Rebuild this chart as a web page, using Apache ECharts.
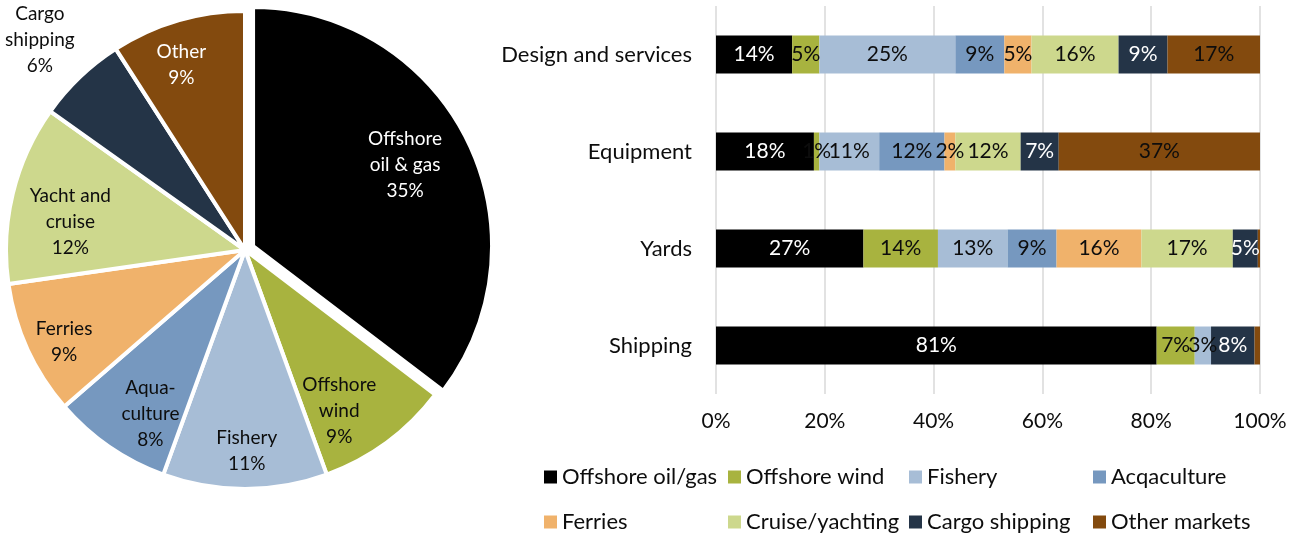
<!DOCTYPE html>
<html>
<head>
<meta charset="utf-8">
<script src="https://cdn.jsdelivr.net/npm/echarts@6/dist/echarts.min.js"></script>
<style>
  html, body { margin: 0; padding: 0; background: #fff; }
  #chart { width: 1290px; height: 536px; }
</style>
</head>
<body>
<div id="chart"></div>
<script>
// Market shares by segment (pie) and by industry group (stacked bars)
const pieLabels = ['Offshore\noil & gas', 'Offshore\nwind', 'Fishery', 'Aqua-\nculture', 'Ferries', 'Yacht and\ncruise', 'Cargo\nshipping', 'Other'];
const pieValues = [35, 9, 11, 8, 9, 12, 6, 9];

const categories = ['Design and services', 'Equipment', 'Yards', 'Shipping'];
const seriesNames = ['Offshore oil/gas', 'Offshore wind', 'Fishery', 'Acqaculture', 'Ferries', 'Cruise/yachting', 'Cargo shipping', 'Other markets'];
const oilGas      = [14, 18, 27.1, 81];
const wind        = [5, 1, 13.7, 7];
const fishery     = [25, 11, 12.8, 3];
const aquaculture = [9, 12, 9, 0];
const ferries     = [5, 2, 15.6, 0];
const cruise      = [16, 12, 16.8, 0];
const cargo       = [9, 7, 4.6, 8];
const other       = [17, 37, 0.4, 1];
const xTicks = [0, 20, 40, 60, 80, 100];

const seriesValues = [oilGas, wind, fishery, aquaculture, ferries, cruise, cargo, other];
const palette = ['#000000', '#a8b33f', '#a7bdd6', '#7698bf', '#f0b26b', '#cdd88d', '#243447', '#834a0e'];
const lightText = { 'Offshore oil/gas': true, 'Cargo shipping': true };
const unlabeled = { 'Other markets': ['Shipping'] };

const FONT = 'Lato';
const TEXT = '#0d0d0d';

// pie geometry: the first slice is pulled out from the centre
const PIE_CX = 245, PIE_CY = 250, PIE_R = 239, PIE_OFFSET = 9, EXPLODED = 0;
const labelRadius = [0.72, 0.78, 0.84, 0.79, 0.85, 0.74, 1.228, 0.82];
const labelShiftDeg = [-1.6, 6, -0.5, -4.5, -2.5, -4.6, -0.7, -2.6];
const pieTotal = pieValues.reduce((a, b) => a + b, 0);
const pieMid = [];
(function () {
  let acc = 0;
  pieValues.forEach(v => { pieMid.push((acc + v / 2) / pieTotal * 2 * Math.PI); acc += v; });
})();
const explodedCenter = [
  PIE_CX + PIE_OFFSET * Math.sin(pieMid[EXPLODED]),
  PIE_CY - PIE_OFFSET * Math.cos(pieMid[EXPLODED])
];

function pieLabelPos(i) {
  const a = pieMid[i] + labelShiftDeg[i] * Math.PI / 180;
  const c = i === EXPLODED ? explodedCenter : [PIE_CX, PIE_CY];
  const r = labelRadius[i] * PIE_R;
  return { x: c[0] + r * Math.sin(a), y: c[1] - r * Math.cos(a), align: 'center', verticalAlign: 'middle' };
}

const pieLabelStyle = {
  show: true,
  position: 'inside',
  fontFamily: FONT,
  fontSize: 19,
  lineHeight: 26,
  align: 'center'
};
const hiddenSlice = { color: 'rgba(0,0,0,0)', borderColor: 'rgba(0,0,0,0)', borderWidth: 0 };

function sliceItem(i) {
  return {
    value: pieValues[i],
    name: pieLabels[i],
    itemStyle: { color: palette[i] },
    label: {
      color: (i === 0 || i === 7) ? '#ffffff' : TEXT,
      formatter: pieLabels[i] + '\n' + pieValues[i] + '%'
    }
  };
}

// all slices except the pulled-out one
const pieMain = {
  type: 'pie',
  center: [PIE_CX, PIE_CY],
  radius: PIE_R,
  startAngle: 90,
  clockwise: true,
  silent: true,
  itemStyle: { borderColor: '#ffffff', borderWidth: 4 },
  label: pieLabelStyle,
  labelLine: { show: false },
  labelLayout: p => pieLabelPos(p.dataIndex),
  data: pieValues.map((v, i) => i === EXPLODED
    ? { value: v, name: pieLabels[i], itemStyle: hiddenSlice, label: { show: false } }
    : sliceItem(i))
};

// the pulled-out slice, drawn around a shifted centre
const pieExploded = {
  type: 'pie',
  center: explodedCenter,
  radius: PIE_R,
  startAngle: 90,
  clockwise: true,
  silent: true,
  itemStyle: { borderColor: '#ffffff', borderWidth: 4 },
  label: pieLabelStyle,
  labelLine: { show: false },
  labelLayout: p => pieLabelPos(p.dataIndex === 0 ? EXPLODED : 1),
  data: [
    sliceItem(EXPLODED),
    { value: pieTotal - pieValues[EXPLODED], name: 'rest', itemStyle: hiddenSlice, label: { show: false } }
  ]
};

const barSeries = seriesNames.map((name, si) => ({
  name: name,
  type: 'bar',
  stack: 'share',
  barWidth: 38,
  itemStyle: { color: palette[si] },
  label: {
    show: true,
    position: 'inside',
    fontFamily: FONT,
    fontSize: 21,
    color: lightText[name] ? '#ffffff' : TEXT,
    formatter: p => Math.round(p.value) + '%'
  },
  data: seriesValues[si].map((v, ci) => {
    const hide = v < 1 || (unlabeled[name] && unlabeled[name].indexOf(categories[ci]) >= 0);
    return hide ? { value: v, label: { show: false } } : v;
  })
}));

const legendCols = [544, 728, 909, 1093];
const legends = legendCols.map((x, c) => ({
  orient: 'vertical',
  left: x,
  top: 465,
  padding: 0,
  itemWidth: 13,
  itemHeight: 13,
  itemGap: 21,
  icon: 'rect',
  selectedMode: false,
  textStyle: { fontFamily: FONT, fontSize: 22, color: TEXT, lineHeight: 24 },
  data: [seriesNames[c], seriesNames[c + 4]]
}));

const option = {
  animation: false,
  backgroundColor: '#ffffff',
  color: palette,
  legend: legends,
  grid: { left: 716, right: 30, top: 6, bottom: 142, containLabel: false },
  xAxis: {
    type: 'value',
    min: 0,
    max: 100,
    interval: 20,
    axisLine: { show: false },
    axisTick: { show: false },
    splitLine: { show: true, lineStyle: { color: '#d9d9d9', width: 1.5 } },
    axisLabel: {
      margin: 17,
      fontFamily: FONT,
      fontSize: 21,
      color: TEXT,
      formatter: v => (xTicks.indexOf(v) >= 0 ? v + '%' : '')
    }
  },
  yAxis: {
    type: 'category',
    inverse: true,
    data: categories,
    axisLine: { show: false },
    axisTick: { show: false },
    axisLabel: { margin: 24, fontFamily: FONT, fontSize: 22, color: TEXT }
  },
  series: [pieMain, pieExploded].concat(barSeries)
};

const chart = echarts.init(document.getElementById('chart'), null, { renderer: 'canvas' });
chart.setOption(option);
</script>
</body>
</html>
